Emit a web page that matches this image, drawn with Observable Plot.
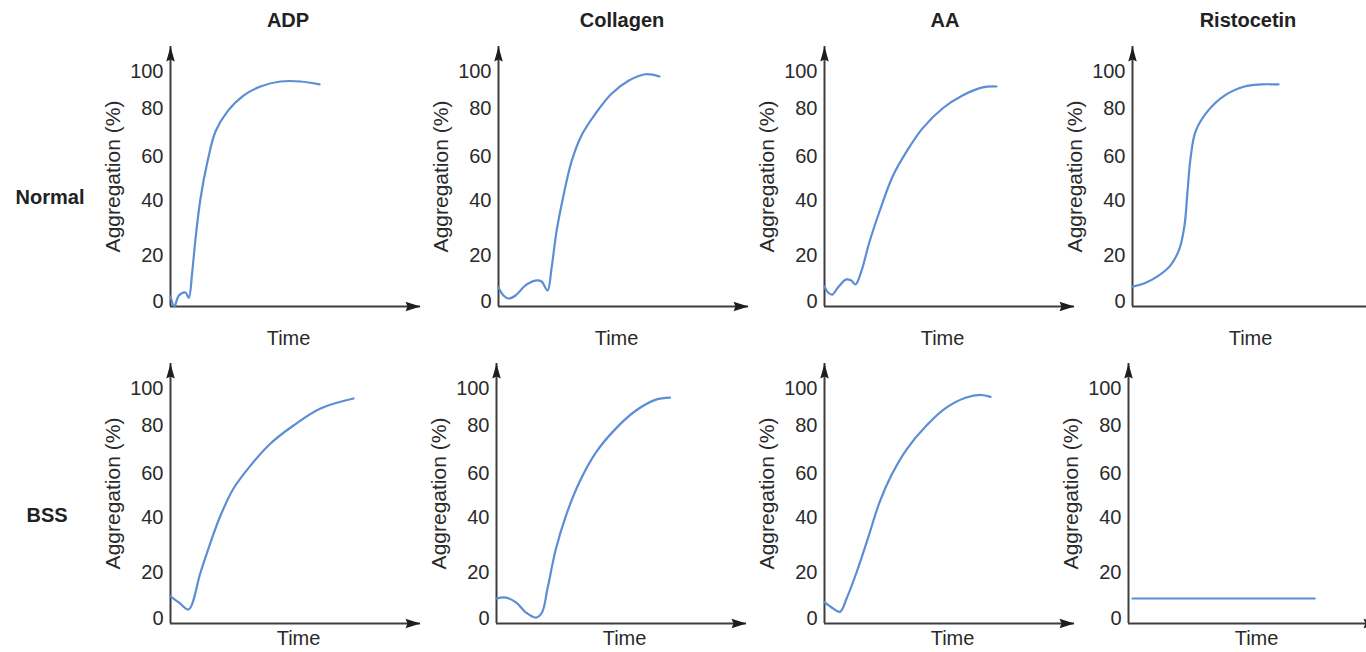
<!DOCTYPE html>
<html>
<head>
<meta charset="utf-8">
<script src="https://cdn.jsdelivr.net/npm/d3@7"></script>
<script src="https://cdn.jsdelivr.net/npm/@observablehq/plot@0.6"></script>
<style>
  html, body { margin: 0; padding: 0; background: #fff; overflow: hidden; }
  #fig { position: relative; width: 1366px; height: 652px; overflow: hidden;
         font-family: "Liberation Sans", Arial, Helvetica, sans-serif; color: #222; }
  .panel { position: absolute; }
  .lbl { position: absolute; font-weight: bold; font-size: 20px; line-height: 1;
         transform: translate(-50%, -50%); white-space: nowrap; color: #222; }
</style>
</head>
<body>
<div id="fig"></div>
<script>
// ---------- data ----------
const agents = ["ADP", "Collagen", "AA", "Ristocetin"];
const conditions = ["Normal", "BSS"];
const yTicks = [0, 20, 40, 60, 80, 100];
const yLabel = "Aggregation (%)";
const xLabel = "Time";

// Normal
const adpNormalTime = [0, 0.16, 0.33, 0.6, 0.73, 0.87, 1.0, 1.2, 1.48, 1.8, 2.28, 2.92, 3.6, 4.4, 5.2, 5.96];
const adpNormalAgg  = [2.2, -2, 2.5, 3.9, 1.6, 13, 26, 40.9, 57.7, 70.4, 78.8, 87, 91.9, 94.6, 94.6, 93];
const colNormalTime = [0, 0.2, 0.4, 0.68, 1.08, 1.48, 1.72, 1.96, 2.12, 2.32, 2.6, 2.92, 3.32, 3.88, 4.52, 5.2, 5.88, 6.44];
const colNormalAgg  = [6.1, 2.6, 1.3, 2.6, 7, 9.1, 8.7, 4.8, 14.3, 28.7, 42.3, 57.7, 68.8, 77.9, 88, 95, 98.5, 97.3];
const aaNormalTime  = [0, 0.14, 0.31, 0.54, 0.87, 1.07, 1.24, 1.47, 1.8, 2.2, 2.72, 3.28, 3.92, 4.72, 5.52, 6.32, 6.88];
const aaNormalAgg   = [6.5, 3.9, 3.0, 6.1, 9.6, 9.1, 7.4, 13, 25, 36, 50.8, 62, 71.7, 80, 87, 91.4, 91.9];
const risNormalTime = [0, 0.46, 1.0, 1.52, 1.88, 2.08, 2.2, 2.32, 2.52, 3.0, 3.68, 4.48, 5.12, 5.84];
const risNormalAgg  = [6.5, 7.8, 10.9, 15.7, 22.5, 30.9, 44, 59, 70.4, 78.8, 87, 91.9, 93, 93];

// BSS
const adpBssTime = [0, 0.36, 0.72, 1.2, 1.6, 2.0, 2.52, 3.2, 4.0, 4.92, 6.0, 7.32];
const adpBssAgg  = [9.6, 6.75, 3.9, 20, 30.9, 40.9, 53.2, 63.3, 72.5, 80, 89.2, 94.6];
const colBssTime = [0, 0.38, 0.78, 1.18, 1.58, 1.82, 2.04, 2.38, 2.78, 3.31, 3.98, 4.78, 5.58, 6.38, 6.94];
const colBssAgg  = [8.7, 9.1, 7, 2.6, 0.4, 2.6, 13, 28.7, 40.9, 55.9, 68.8, 78.8, 88.1, 94, 95.1];
const aaBssTime  = [0, 0.26, 0.62, 0.88, 1.28, 1.74, 2.2, 2.68, 3.3, 4.08, 4.86, 5.64, 6.26, 6.64];
const aaBssAgg   = [7.1, 5, 2.9, 8.6, 20, 32.5, 46.9, 59.3, 70.3, 80, 89.5, 95, 96.5, 95.5];
const risBssTime = [0.16, 7.45];
const risBssAgg  = [8.7, 8.7];

const series = [
  [[adpNormalTime, adpNormalAgg], [colNormalTime, colNormalAgg], [aaNormalTime, aaNormalAgg], [risNormalTime, risNormalAgg]],
  [[adpBssTime, adpBssAgg], [colBssTime, colBssAgg], [aaBssTime, aaBssAgg], [risBssTime, risBssAgg]]
];

// ---------- layout / style ----------
const timeMax = 10;          // arrow tip of the time axis
const yFloor = -2.2;         // level of the drawn time axis
const yCeil = 114;           // tip of the aggregation axis arrow
// the printed figure spaces its tick labels unevenly: a piecewise warp used as the y scale transform
const yWarp = d3.scaleLinear()
  .domain([yFloor, 0, 20, 40, 60, 80, 100, yCeil])
  .range([0, 5, 51, 106, 150, 198, 235, 260]);
const axisLeft = [[170, 498, 823.5, 1132], [170, 495.5, 824, 1128]];
const rowTop = [0, 317];
const titleX = [288, 622, 945, 1248];
const rowLabelPos = [[50, 197], [47, 515]];
const timeDx = [-7, 3], timeDy = [32.5, 15.5];
const M_LEFT = 80, M_RIGHT = 10, AXIS_LEN = 250, H = 352;
const blue = "#5b8ed4", axisColor = "#3e3e3e", textColor = "#2a2a2a";
const FONT = "'Liberation Sans', Arial, Helvetica, sans-serif";

const arrowUp = {draw(ctx, size) {
  const r = Math.sqrt(size / Math.PI);
  ctx.moveTo(0, 0); ctx.lineTo(r * 0.85, r * 3.0); ctx.lineTo(0, r * 2.6); ctx.lineTo(-r * 0.85, r * 3.0); ctx.closePath();
}};
const arrowRight = {draw(ctx, size) {
  const r = Math.sqrt(size / Math.PI);
  ctx.moveTo(0, 0); ctx.lineTo(-r * 3.0, -r * 0.95); ctx.lineTo(-r * 2.6, 0); ctx.lineTo(-r * 3.0, r * 0.95); ctx.closePath();
}};

const fig = document.getElementById("fig");

conditions.forEach((cond, r) => {
  agents.forEach((agent, c) => {
    const [t, v] = series[r][c];
    const data = t.map((d, i) => ({time: d, agg: v[i]}));
    const svg = Plot.plot({
      width: M_LEFT + AXIS_LEN + M_RIGHT,
      height: H,
      marginLeft: M_LEFT, marginRight: M_RIGHT,
      marginTop: 46, marginBottom: H - 306,
      x: {domain: [0, timeMax], axis: null},
      y: {transform: yWarp, axis: null},
      style: {fontFamily: FONT, fontSize: "20px", color: textColor, background: "transparent", overflow: "visible"},
      marks: [
        Plot.ruleX([0], {stroke: axisColor, strokeWidth: 2}),
        Plot.ruleY([yFloor], {stroke: axisColor, strokeWidth: 2}),
        Plot.dot([{time: 0, agg: yCeil}], {x: "time", y: "agg", symbol: arrowUp, r: 5, fill: "#1e1e1e", stroke: "none"}),
        Plot.dot([{time: timeMax, agg: yFloor}], {x: "time", y: "agg", symbol: arrowRight, r: 5, fill: "#1e1e1e", stroke: "none"}),
        // y tick labels (through the transformed y scale)
        Plot.text(yTicks, {y: d => d, text: d => String(d), frameAnchor: "left", dx: -7, textAnchor: "end", lineAnchor: "middle", fontSize: 20, fill: textColor}),
        Plot.text([yLabel], {text: d => d, frameAnchor: "left", rotate: -90, dx: -57, fontSize: 21, fill: textColor, textAnchor: "middle", lineAnchor: "middle"}),
        Plot.text([xLabel], {text: d => d, frameAnchor: "bottom", dx: timeDx[r], dy: timeDy[r], fontSize: 20, fill: textColor, lineAnchor: "middle"}),
        Plot.line(data, {x: "time", y: "agg", curve: "catmull-rom", stroke: blue, strokeWidth: 2.2})
      ]
    });
    svg.classList.add("panel");
    svg.style.left = (axisLeft[r][c] - M_LEFT) + "px";
    svg.style.top = rowTop[r] + "px";
    fig.appendChild(svg);
  });
});

agents.forEach((a, c) => {
  const d = document.createElement("div");
  d.className = "lbl";
  d.textContent = a;
  d.style.left = titleX[c] + "px";
  d.style.top = "20px";
  fig.appendChild(d);
});
conditions.forEach((cond, r) => {
  const d = document.createElement("div");
  d.className = "lbl";
  d.textContent = cond;
  d.style.left = rowLabelPos[r][0] + "px";
  d.style.top = rowLabelPos[r][1] + "px";
  fig.appendChild(d);
});
</script>
</body>
</html>
